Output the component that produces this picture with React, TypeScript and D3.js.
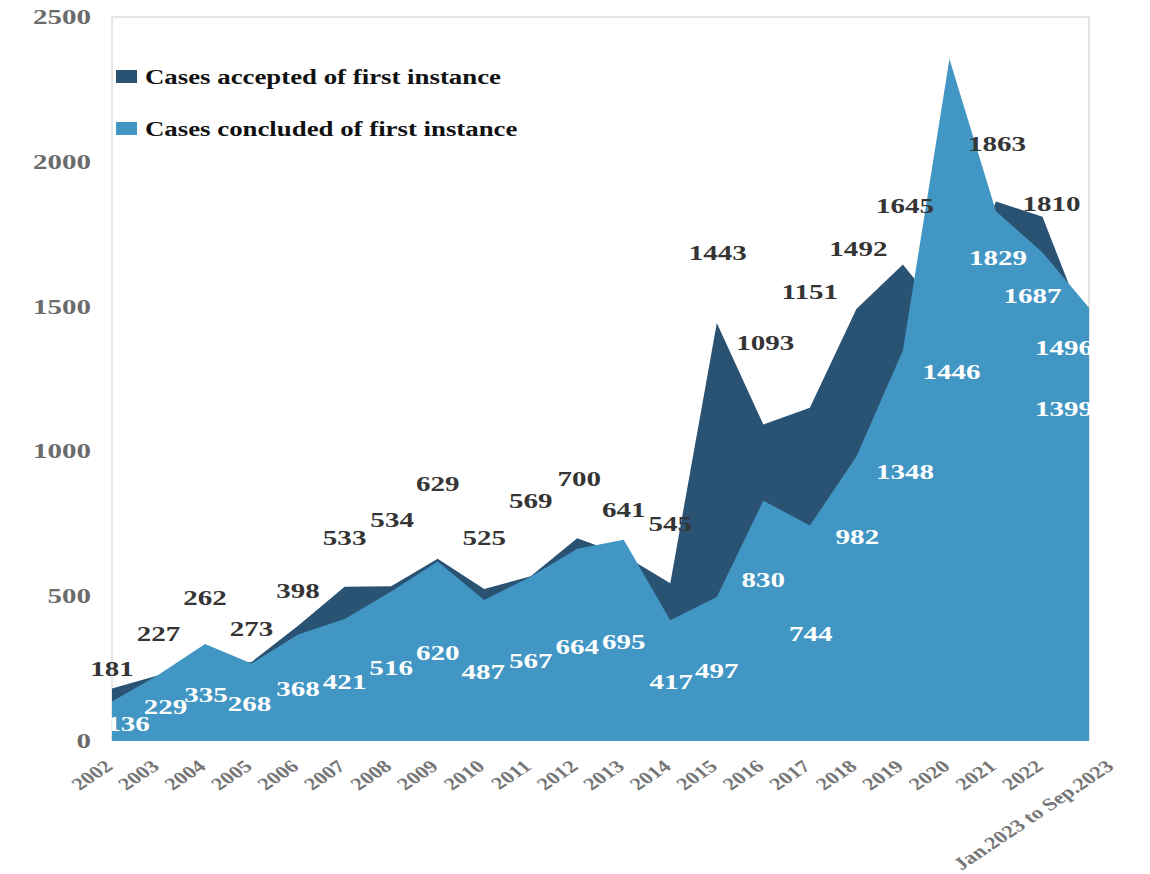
import React from "react";
import * as d3 from "d3";

const categories = [
  "2002", "2003", "2004", "2005", "2006", "2007", "2008", "2009", "2010", "2011", "2012",
  "2013", "2014", "2015", "2016", "2017", "2018", "2019", "2020", "2021", "2022",
  "Jan.2023 to Sep.2023",
];

const accepted = [181, 227, 262, 273, 398, 533, 534, 629, 525, 569, 700, 641, 545, 1443, 1093, 1151, 1492, 1645, 1446, 1863, 1810, 1399];
const concluded = [136, 229, 335, 268, 368, 421, 516, 620, 487, 567, 664, 695, 417, 497, 830, 744, 982, 1348, 2355, 1829, 1687, 1496];
// which concluded values carry a visible data label in the reference
const concludedLabelShown = [true, true, true, true, true, true, true, true, true, true, true, true, true, true, true, true, true, true, false, true, true, true];

const seriesNames = ["Cases accepted of first instance", "Cases concluded of first instance"];
const yTicks = [0, 500, 1000, 1500, 2000, 2500];

// label layout (pixel nudges from each point), kept apart from the data
const acceptedLabelNudge: [number, number][] = [
  [0, -20], [0, -42], [0, -68], [0, -34], [0, -35], [0, -49], [1, -67], [0, -76], [0, -52], [0, -76], [2, -60],
  [0, -46], [0, -60], [1, -71], [2, -82], [0, -116], [2, -61], [2, -59], [2, 49], [1, -58], [9, -14], [-25, 72],
];
const concludedLabelNudge: [number, number][] = [
  [16, 22], [7, 32], [1, 50], [-2, 40], [0, 54], [0, 62], [0, 76], [0, 91], [-1, 71], [0, 83], [0, 98],
  [0, 102], [1, 61], [0, 73], [0, 79], [1, 108], [1, 80], [2, 121], [0, 0], [2, 46], [-10, 43], [-25, 40],
];

const W = 1150;
const H = 874;
const plot = { left: 112, right: 1089, top: 17, bottom: 741 };
const DARK = "#2a5273";
const LIGHT = "#4296c4";
const FONT = "'Liberation Serif', 'Times New Roman', serif";

export default function App() {
  const x = d3.scalePoint<string>().domain(categories).range([plot.left, plot.right]);
  const y = d3.scaleLinear().domain([0, 2500]).range([plot.bottom, plot.top]);

  const area = d3
    .area<number>()
    .x((_, i) => x(categories[i]) as number)
    .y0(y(0))
    .y1((d) => y(d));

  const labels: { text: string; x: number; y: number; fill: string }[] = [];
  accepted.forEach((v, i) => {
    const px = (x(categories[i]) as number) + acceptedLabelNudge[i][0];
    const py = y(v) + acceptedLabelNudge[i][1];
    const inside = py > y(concluded[i]);
    labels.push({ text: String(v), x: px, y: py, fill: inside ? "#ffffff" : "#353535" });
  });
  concluded.forEach((v, i) => {
    if (!concludedLabelShown[i]) return;
    const px = (x(categories[i]) as number) + concludedLabelNudge[i][0];
    const py = y(v) + concludedLabelNudge[i][1];
    labels.push({ text: String(v), x: px, y: py, fill: "#ffffff" });
  });

  return (
    <svg
      width={W}
      height={H}
      style={{ position: "absolute", left: 0, top: 0, background: "#ffffff" }}
      fontFamily={FONT}
    >
      <defs>
        <clipPath id="labelClip">
          <rect x={0} y={0} width={plot.right + 1} height={H} />
        </clipPath>
      </defs>
      <rect x={0} y={0} width={W} height={H} fill="#ffffff" />
      {/* plot frame */}
      <path
        d={`M${plot.left},${plot.bottom}V${plot.top}H${plot.right}V${plot.bottom}`}
        fill="none"
        stroke="#e6e6e6"
        strokeWidth={2}
      />
      {/* areas */}
      <path d={area(accepted) || ""} fill={DARK} />
      <path d={area(concluded) || ""} fill={LIGHT} />

      {/* y axis labels */}
      {yTicks.map((t) => (
        <text
          key={t}
          transform={`translate(91,${y(t)}) scale(1.45,1)`}
          textAnchor="end"
          dy="0.35em"
          fontSize={20}
          fontWeight="bold"
          fill="#6b6b6b"
        >
          {t}
        </text>
      ))}

      {/* x axis labels */}
      {categories.map((c, i) => {
        const px = (x(c) as number) + 2 + (i === categories.length - 1 ? 24 : 0);
        return (
          <text
            key={c}
            transform={`translate(${px},768) scale(1.3,1) rotate(-41)`}
            textAnchor="end"
            fontSize={17.5}
            fontWeight="bold"
            fill="#767676"
          >
            {c}
          </text>
        );
      })}

      {/* data labels */}
      <g clipPath="url(#labelClip)">
        {labels.map((l, k) => (
          <text
            key={k}
            transform={`translate(${l.x},${l.y}) scale(1.32,1)`}
            textAnchor="middle"
            dy="0.35em"
            fontSize={22}
            fontWeight="bold"
            fill={l.fill}
          >
            {l.text}
          </text>
        ))}
      </g>

      {/* legend */}
      {seriesNames.map((name, i) => (
        <g key={name}>
          <rect x={116} y={70 + i * 52} width={21} height={13} fill={i === 0 ? DARK : LIGHT} />
          <text
            transform={`translate(145,${76 + i * 52}) scale(1.22,1)`}
            dy="0.35em"
            fontSize={22}
            fontWeight="bold"
            fill="#111111"
          >
            {name}
          </text>
        </g>
      ))}
    </svg>
  );
}
